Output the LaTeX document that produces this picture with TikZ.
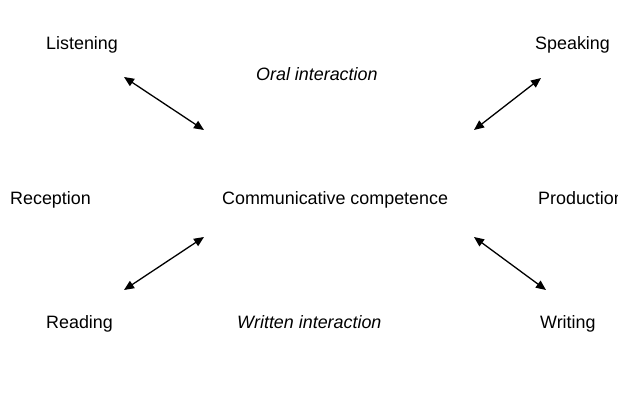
\documentclass[tikz,border=0pt]{standalone}
\usepackage{fontspec}
\setmainfont{Liberation Sans}
\usetikzlibrary{arrows.meta}
\begin{document}
\begin{tikzpicture}[x=1pt,y=-1pt,
  lbl/.style={font=\fontsize{17.9}{20}\selectfont, inner sep=0pt, anchor=base west},
  ilbl/.style={lbl, font=\fontsize{17.9}{20}\selectfont\itshape},
  dbl/.style={line width=1.3pt, {Triangle[length=10pt,width=8.5pt]}-{Triangle[length=10pt,width=8.5pt]}}]
\useasboundingbox (0,0) rectangle (618,404);
\clip (0,0) rectangle (618,404);
\node[lbl] (listening) at (46,49) {Listening};
\node[lbl] (speaking) at (535,49) {Speaking};
\node[ilbl] (oral) at (256,81) {Oral interaction};
\node[lbl] (reception) at (10,204) {Reception};
\node[lbl] (cc) at (222,204) {Communicative competence};
\node[lbl] (production) at (538,204) {Production};
\node[lbl] (reading) at (46,328) {Reading};
\node[ilbl] (written) at (237,328) {Written interaction};
\node[lbl] (writing) at (540,328) {Writing};
\coordinate (l1) at (124,77);
\coordinate (l2) at (204,130);
\coordinate (s1) at (541,78);
\coordinate (s2) at (474,130);
\coordinate (r1) at (124,290);
\coordinate (r2) at (204,237);
\coordinate (w1) at (474,237);
\coordinate (w2) at (546,290);
\draw[dbl] (l1) -- (l2);
\draw[dbl] (s1) -- (s2);
\draw[dbl] (r1) -- (r2);
\draw[dbl] (w1) -- (w2);
\end{tikzpicture}
\end{document}
